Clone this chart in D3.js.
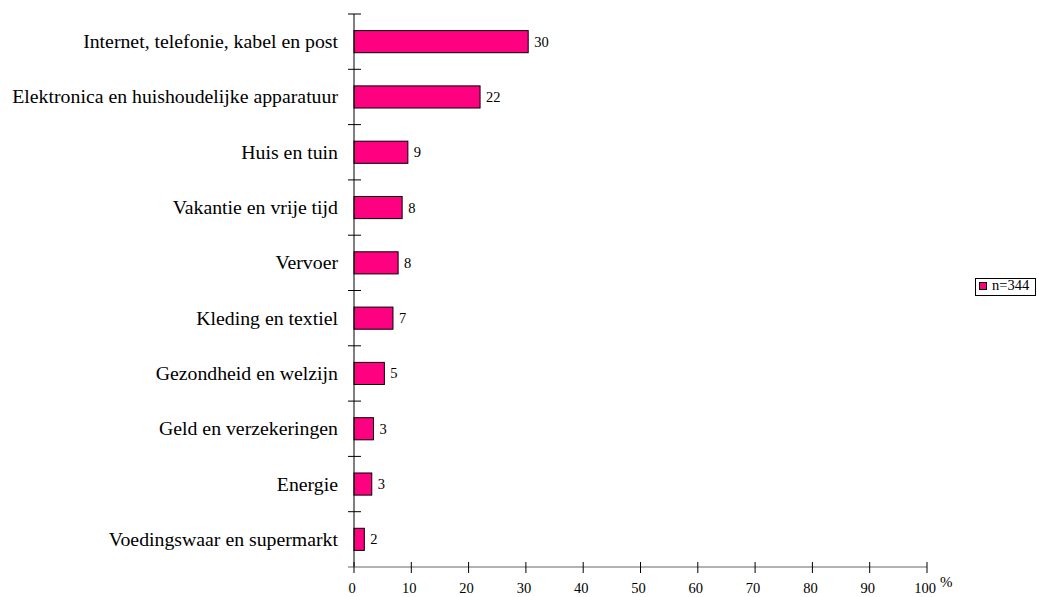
<!DOCTYPE html>
<html><head><meta charset="utf-8">
<script src="https://cdn.jsdelivr.net/npm/d3@7"></script>
<style>body{margin:0;background:#fff}svg{display:block}</style>
</head><body>
<svg id="c" width="1037" height="597"></svg>
<script>
const categories = ["Internet, telefonie, kabel en post","Elektronica en huishoudelijke apparatuur","Huis en tuin","Vakantie en vrije tijd","Vervoer","Kleding en textiel","Gezondheid en welzijn","Geld en verzekeringen","Energie","Voedingswaar en supermarkt"];
const values = [30.4, 22.0, 9.4, 8.4, 7.7, 6.8, 5.3, 3.4, 3.1, 1.8];
const xTicks = [0,10,20,30,40,50,60,70,80,90,100];
const seriesName = "n=344";

const FONT = '"Liberation Serif", monospace';
const svg = d3.select("#c");
const x = d3.scaleLinear().domain([0,100]).range([354,927]);
const y = d3.scaleBand().domain(categories).range([14,567]).paddingInner(0.6).paddingOuter(0.3);
const yb = d3.scaleBand().domain(categories).range([14,567]);
const color = "#ff0080";

svg.selectAll("rect.bar").data(values).enter().append("rect")
  .attr("x", x(0)).attr("y",(d,i)=>y(categories[i]))
  .attr("width",d=>x(d)-x(0)).attr("height",y.bandwidth())
  .attr("fill",color).attr("stroke","#000").attr("stroke-width",1);

svg.selectAll("text.val").data(values).enter().append("text")
  .style("font-family",FONT)
  .attr("x",d=>x(d)+6).attr("y",(d,i)=>y(categories[i])+y.bandwidth()/2+5)
  .attr("font-size",14.5).text(d=>d3.format(".0f")(d));

svg.append("line").attr("x1",x(0)).attr("x2",x(0)).attr("y1",14).attr("y2",567).attr("stroke","#000");
const bounds = categories.map(c=>yb(c));
svg.selectAll("line.yt").data(bounds).enter().append("line")
  .attr("x1",348).attr("x2",361).attr("y1",d=>d).attr("y2",d=>d).attr("stroke","#000");
svg.selectAll("text.cat").data(categories).enter().append("text")
  .style("font-family",FONT)
  .attr("x",338).attr("y",c=>yb(c)+yb.bandwidth()/2+6.5).attr("text-anchor","end")
  .attr("font-size",19.8).text(c=>c);

svg.append("line").attr("x1",x(0)-6).attr("x2",x(100)).attr("y1",567).attr("y2",567).attr("stroke","#666");
svg.selectAll("line.xt").data(xTicks).enter().append("line")
  .attr("x1",d=>x(d)).attr("x2",d=>x(d)).attr("y1",562).attr("y2",573).attr("stroke","#000");
svg.selectAll("text.xl").data(xTicks).enter().append("text")
  .style("font-family",FONT)
  .attr("x",d=>x(d)-2).attr("y",593).attr("text-anchor","middle").attr("font-size",14.5).text(d=>d);
svg.append("text").style("font-family",FONT).attr("x",940).attr("y",587).attr("font-size",15).text("%");

const lg = svg.append("g");
lg.append("rect").attr("x",975.5).attr("y",278.5).attr("width",60).attr("height",17).attr("fill","#fff").attr("stroke","#000");
lg.append("rect").attr("x",979.5).attr("y",282.5).attr("width",7).attr("height",7).attr("fill",color).attr("stroke","#000");
lg.append("text").style("font-family",FONT).attr("x",992).attr("y",290).attr("font-size",14.5).text(seriesName);
</script>
</body></html>
